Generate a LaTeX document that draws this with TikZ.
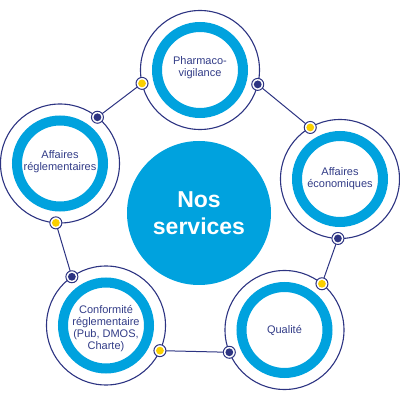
\documentclass[tikz,border=0pt]{standalone}
\usepackage{fontspec}
\setmainfont{Liberation Sans}
\definecolor{navy}{RGB}{45,52,130}
\definecolor{cyanb}{RGB}{0,162,222}
\definecolor{yel}{RGB}{250,208,0}
\definecolor{txt}{RGB}{50,60,135}
\begin{document}
\begin{tikzpicture}[x=1pt,y=1pt,
  svc/.style={circle,draw=navy,line width=1.1pt,minimum size=119pt,inner sep=0pt,outer sep=0pt},
  lbl/.style={text=txt,font=\fontsize{11}{12}\selectfont,align=center,inner sep=0pt},
  ringc/.style={draw=cyanb,line width=10pt},
  link/.style={draw=navy,line width=1pt},
  dotbase/.style={circle,draw=navy,fill=white,line width=1pt,minimum size=12pt,inner sep=0pt,outer sep=0pt},
  ydot/.style={dotbase,path picture={\fill[yel] (path picture bounding box.center) circle[radius=3.9pt];}},
  ndot/.style={dotbase,path picture={\fill[navy] (path picture bounding box.center) circle[radius=3.9pt];}}
]
\useasboundingbox (0,0) rectangle (400,400);
% service circles
\node[svc] (T) at (200,330) {};
\node[svc] (R) at (340,221) {};
\node[svc] (BR) at (284.5,70) {};
\node[svc] (BL) at (106,74.5) {};
\node[svc] (L) at (60,236.5) {};
% blue rings
\foreach \c in {T,R,BR,BL,L}{\draw[ringc] (\c.center) circle[radius=43];}
% central circle
\node[circle,fill=cyanb,minimum size=144pt,inner sep=0pt,text=white,align=center,
  font=\fontsize{23}{27}\selectfont\bfseries] (C) at (199,187) {Nos\\services};
% labels
\node[lbl] (tT) at ([yshift=2.3]T.center) {Pharmaco-\\vigilance};
\node[lbl] (tR) at ([yshift=0.7]R.center) {Affaires\\économiques};
\node[lbl] (tBR) at (BR.center) {Qualité};
\node[lbl] (tBL) at ([yshift=-3.2]BL.center) {Conformité\\réglementaire\\(Pub, DMOS,\\Charte)};
\node[lbl] (tL) at ([yshift=1.5]L.center) {Affaires\\réglementaires};
% dots
\node[ydot] (Ty) at (T.193.3) {};
\node[ndot] (Tn) at (T.346.4) {};
\node[ydot] (Ry) at (R.120.8) {};
\node[ndot] (Rn) at (R.268.3) {};
\node[ydot] (BRy) at (BR.51.4) {};
\node[ndot] (BRn) at (BR.202) {};
\node[ndot] (BLn) at (BL.125.6) {};
\node[ydot] (BLy) at (BL.335) {};
\node[ndot] (Ln) at (L.51.9) {};
\node[ydot] (Ly) at (L.266) {};
% connectors
\draw[link] (Tn) -- (Ry);
\draw[link] (Rn) -- (BRy);
\draw[link] (BRn) -- (BLy);
\draw[link] (BLn) -- (Ly);
\draw[link] (Ln) -- (Ty);
\end{tikzpicture}
\end{document}
